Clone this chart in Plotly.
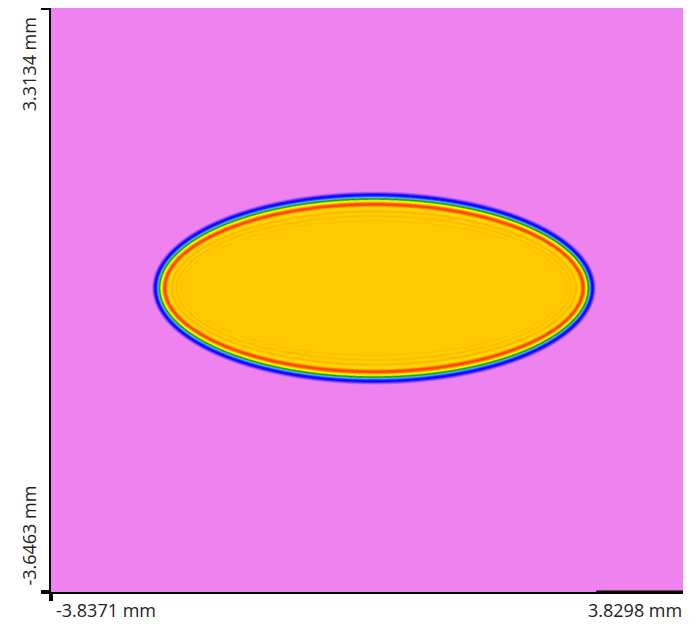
import numpy as np
import plotly.graph_objects as go

# extent of the map in mm, as printed at the corners
x_min, x_max = -3.8371, 3.8298
y_min, y_max = -3.6463, 3.3134
corner_labels = ["-3.8371 mm", "3.8298 mm", "-3.6463 mm", "3.3134 mm"]

# elliptical spot: centre and outer semi-axes (mm) where the colour leaves the background
spot_center = [0.02, -0.012]
spot_axes = [2.668, 1.16]

# intensity read inward from the outer contour, one value per band
edge_levels = [0.0, 0.02, 0.05, 0.08, 0.11, 0.13, 0.15, 0.2, 0.26, 0.32, 0.38, 0.46,
               0.56, 0.68, 0.8, 0.9, 0.96, 0.97, 0.92, 0.84, 0.75, 0.69, 0.68, 0.71,
               0.75, 0.78, 0.78, 0.75, 0.72, 0.72, 0.75, 0.77, 0.77, 0.75, 0.73, 0.73,
               0.75, 0.76, 0.76, 0.75, 0.74, 0.74, 0.75]
plateau_level = 0.75
band_mm = 0.0095

# false colour map used by the profiler
colors = [
    [0.0, "rgb(238,130,238)"],
    [0.12, "rgb(0,0,255)"],
    [0.26, "rgb(90,170,255)"],
    [0.38, "rgb(0,165,0)"],
    [0.55, "rgb(255,255,0)"],
    [0.75, "rgb(255,200,0)"],
    [0.88, "rgb(255,120,0)"],
    [1.0, "rgb(255,45,0)"],
]

levels = np.array(edge_levels)


def level_at(X, Y):
    # approximate distance inside the outer contour, then read the band value
    a, b = spot_axes
    dx, dy = X - spot_center[0], Y - spot_center[1]
    rho = np.maximum(np.sqrt((dx / a) ** 2 + (dy / b) ** 2), 1e-6)
    grad = np.sqrt((dx / a**2) ** 2 + (dy / b**2) ** 2) / rho
    depth = (1 - rho) / np.maximum(grad, 1e-9)
    idx = np.floor(depth / band_mm).astype(int)
    z = np.where(depth < 0, 0.0, plateau_level)
    ok = (idx >= 0) & (idx < len(levels))
    z[ok] = levels[idx[ok]]
    return z


# pixel-sized grid over the map, each cell averaged over 3x3 sub-samples
nx, ny = 640, 584
sx = (x_max - x_min) / nx
sy = (y_max - y_min) / ny
xs = x_min + (np.arange(nx) + 0.5) * sx
ys = y_min + (np.arange(ny) + 0.5) * sy
X, Y = np.meshgrid(xs, ys)
z = np.zeros_like(X)
for ox in (-1 / 3, 0, 1 / 3):
    for oy in (-1 / 3, 0, 1 / 3):
        z += level_at(X + ox * sx, Y + oy * sy)
z /= 9

fig = go.Figure(go.Heatmap(
    x=xs, y=ys, z=z.astype(np.float32),
    colorscale=colors, zmin=0, zmax=1, zsmooth="best",
    showscale=False, hoverinfo="skip",
))

# the page body adds an 8px margin, so the figure is sized to the visible area
label_font = dict(family="Open Sans", size=18, color="#222")
fig.update_layout(
    width=683, height=616,
    margin=dict(l=43, r=0, t=0, b=32),
    paper_bgcolor="white",
    plot_bgcolor="rgb(238,130,238)",
    showlegend=False,
    annotations=[
        dict(text=corner_labels[0], x=0.006, y=-0.031, xref="paper", yref="paper",
             xanchor="left", yanchor="middle", borderpad=0, showarrow=False, font=label_font),
        dict(text=corner_labels[1], x=0.9875, y=-0.031, xref="paper", yref="paper",
             xanchor="right", yanchor="middle", borderpad=0, showarrow=False, font=label_font),
        dict(text=corner_labels[2], x=-0.034, y=0.008, xref="paper", yref="paper",
             xanchor="center", yanchor="bottom", textangle=-90, showarrow=False, font=label_font),
        dict(text=corner_labels[3], x=-0.034, y=0.988, xref="paper", yref="paper",
             xanchor="center", yanchor="top", textangle=-90, showarrow=False, font=label_font),
    ],
    shapes=[
        dict(type="line", xref="paper", yref="paper", x0=0.852, x1=1, y0=0, y1=0,
             line=dict(color="black", width=3)),
    ],
)
fig.update_xaxes(
    range=[x_min, x_max], showgrid=False, zeroline=False,
    showline=True, linecolor="black", linewidth=2,
    ticks="outside", tickvals=[x_min], ticklen=7, tickwidth=4, tickcolor="black",
    showticklabels=False,
)
fig.update_yaxes(
    range=[y_min, y_max], showgrid=False, zeroline=False,
    showline=True, linecolor="black", linewidth=2,
    ticks="outside", tickvals=[y_min, y_max], ticklen=8, tickwidth=4, tickcolor="black",
    showticklabels=False,
)

fig.write_html("out.html")
